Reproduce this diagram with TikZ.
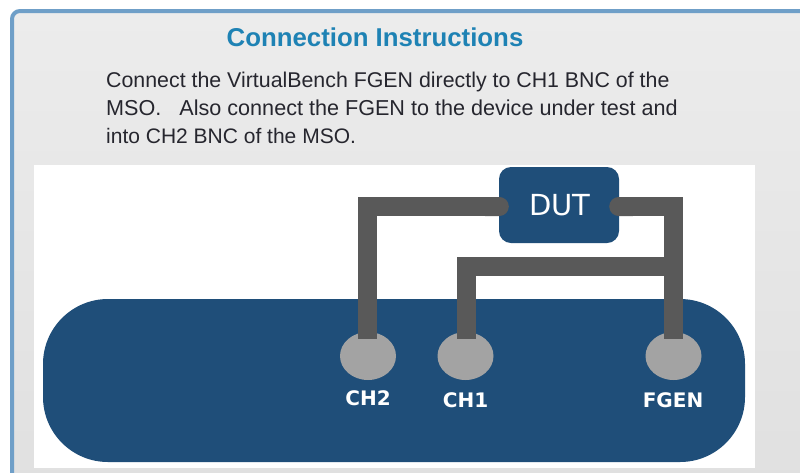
\documentclass[tikz,border=0pt]{standalone}
\usepackage{fontspec}
\setmainfont{Liberation Sans}
\newfontfamily\portfont{DejaVu Sans}
\usetikzlibrary{arrows.meta,shapes.geometric}
\definecolor{navy}{HTML}{1F4E79}
\definecolor{wirecol}{HTML}{595959}
\definecolor{bncgray}{HTML}{A3A3A3}
\definecolor{framecol}{HTML}{6F9FC8}
\definecolor{titlecol}{HTML}{1E82B4}
\definecolor{bodycol}{HTML}{26262E}
\definecolor{paneltop}{HTML}{ECECEC}
\definecolor{panelbot}{HTML}{E0E0E0}
\tikzset{
  wire/.style={draw=wirecol,line width=19pt,line join=miter},
  bnc/.style={ellipse,fill=bncgray,minimum width=56pt,minimum height=48pt,inner sep=0pt},
  portlabel/.style={text=white,font=\portfont\fontsize{20}{22}\selectfont\bfseries,inner sep=0pt},
  bodyline/.style={anchor=base west,text=bodycol,inner sep=0pt},
}
\begin{document}
\begin{tikzpicture}[x=1pt,y=-1pt]
\useasboundingbox (0,0) rectangle (800,472);
\begin{scope}
\clip (0,0) rectangle (800,472);
\fill[white] (0,0) rectangle (800,472);
\draw[draw=framecol,line width=4pt,top color=paneltop,bottom color=panelbot,rounded corners=8pt]
  (12,490) -- (12,11) -- (820,11) -- (820,490) -- cycle;
\end{scope}
\fill[white] (34,165) rectangle (755,468);
\node[text=titlecol,font=\fontsize{25.8}{28}\selectfont\bfseries,inner sep=0pt] (title) at (375,37) {Connection Instructions};
\node[bodyline,font=\fontsize{21.35}{24}\selectfont] (line1) at (106,87) {Connect the VirtualBench FGEN directly to CH1 BNC of the};
\node[bodyline,font=\fontsize{21.6}{24}\selectfont] (line2) at (106,115) {MSO.\ \ \ Also connect the FGEN to the device under test and};
\node[bodyline,font=\fontsize{21}{24}\selectfont] (line3) at (106,143) {into CH2 BNC of the MSO.};
\node[fill=navy,rounded corners=65pt,minimum width=702pt,minimum height=163pt,inner sep=0pt] (mso) at (394,380.5) {};
\node[fill=navy,rounded corners=12pt,minimum width=120pt,minimum height=76pt,inner sep=0pt] (dut) at (559,205) {};
\node[text=white,font=\portfont\fontsize{29}{31}\selectfont,inner sep=0pt] (dutlabel) at (560,205.5) {DUT};
\node[bnc] (ch2) at (368,356) {};
\node[bnc] (ch1) at (465.5,356) {};
\node[bnc] (fgen) at (673.5,356) {};
\node[portlabel] at (368,398) (ch2label) {CH2};
\node[portlabel] at (465.5,400) (ch1label) {CH1};
\node[portlabel] at (673,400) (fgenlabel) {FGEN};
\coordinate (dutl) at ([xshift=10pt,yshift=-1.5pt]dut.west);
\coordinate (dutr) at ([xshift=-10pt,yshift=-1.5pt]dut.east);
\coordinate (ch2top) at ([xshift=-1pt,yshift=-7pt]ch2.north);
\coordinate (ch1top) at ([xshift=1pt,yshift=-7pt]ch1.north);
\coordinate (fgentop) at ([yshift=-7pt]fgen.north);
\coordinate (tee) at (673.5,266.5);
\draw[wire,{Round Cap[]}-] (dutl) -- ++(-10,0) -| (ch2top);
\draw[wire,{Round Cap[]}-] (dutr) -- ++(10,0) -| (fgentop);
\draw[wire] (tee) -| (ch1top);
\end{tikzpicture}
\end{document}
